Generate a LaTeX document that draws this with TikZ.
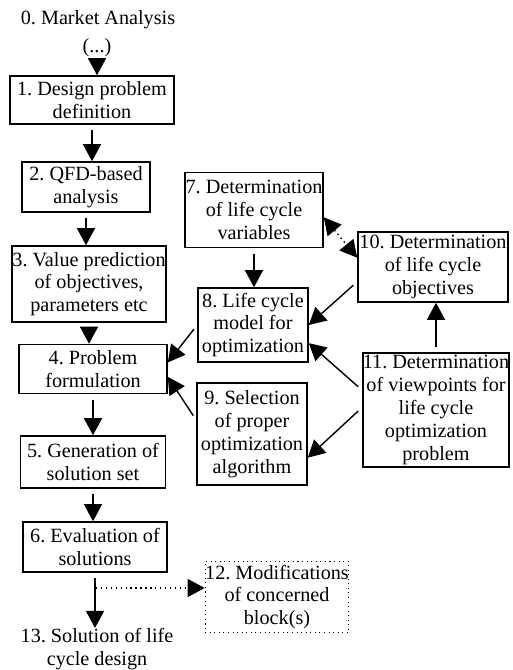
\documentclass[tikz,border=0pt]{standalone}
\usepackage{fontspec}
\setmainfont{Liberation Serif}
\usetikzlibrary{arrows.meta}

\begin{document}
\begin{tikzpicture}[x=0.02cm, y=-0.02cm,
    txt/.style={align=center, inner sep=0pt, font=\fontsize{11.5}{13}\selectfont\frenchspacing},
    box/.style={txt, draw, line width=0.9pt},
    dotbox/.style={txt, draw, dotted, line width=0.6pt},
    arr/.style={-{Triangle[length=0.34cm,width=0.36cm]}, line width=0.8pt, shorten <=3pt},
]
    \useasboundingbox (0,0) rectangle (512,670);

    % Main column
    \node[txt] (m0) at (98,20) {0. Market Analysis};
    \node[txt] (dots) at (97,48) {(...)};
    \node[box, minimum width=3.28cm, minimum height=0.96cm] (b1) at (92,100) {1. Design problem\\definition};
    \node[box, minimum width=2.56cm, minimum height=1.0cm] (b2) at (86,187) {2. QFD-based\\analysis};
    \node[box, minimum width=3.08cm, minimum height=1.52cm] (b3) at (89,284) {3. Value prediction\\of objectives,\\parameters etc};
    \node[box, minimum width=2.96cm, minimum height=0.98cm] (b4) at (93,369) {4. Problem\\formulation};
    \node[box, minimum width=2.9cm, minimum height=1.04cm] (b5) at (93,462) {5. Generation of\\solution set};
    \node[box, minimum width=2.88cm, minimum height=1.0cm] (b6) at (95,547) {6. Evaluation of\\solutions};
    \node[txt] (t13) at (97,649) {13. Solution of life\\cycle design};

    % Life cycle blocks
    \node[box, minimum width=2.76cm, minimum height=1.5cm] (b7) at (254,210) {7. Determination\\of life cycle\\variables};
    \node[box, minimum width=2.2cm, minimum height=1.48cm] (b8) at (253,325) {8. Life cycle\\model for\\optimization};
    \node[box, minimum width=2.2cm, minimum height=2.04cm] (b9) at (252,434) {9. Selection\\of proper\\optimization\\algorithm};
    \node[box, minimum width=3.0cm, minimum height=1.4cm] (b10) at (433,267) {10. Determination\\of life cycle\\objectives};
    \node[box, minimum width=2.9cm, minimum height=2.28cm] (b11) at (436,410) {11. Determination\\of viewpoints for\\life cycle\\optimization\\problem};
    \node[dotbox, minimum width=2.86cm, minimum height=1.42cm] (b12) at (277,597) {12. Modifications\\of concerned\\block(s)};

    % Flow down
    \draw[arr] (dots) -- (dots |- b1.north);
    \draw[arr] (b1.south) -- (b1.south |- b2.north);
    \draw[arr] (b2.south) -- (b2.south |- b3.north);
    \draw[arr] (b3.south) -- (b3.south |- b4.north);
    \draw[arr] (b4.south) -- (b4.south |- b5.north);
    \draw[arr] (b5.south) -- (b5.south |- b6.north);
    \draw[arr] (b6.south) -- (b6.south |- t13.north);

    % Arrows into 4, 8, 9, 10
    \draw[arr] (b7.south) -- (b7.south |- b8.north);
    \draw[arr] (b10.191) -- (b8.east);
    \draw[arr] (b11.165) -- (b8.-18);
    \draw[arr] (b11.178) -- (b9.-23);
    \draw[arr] (b11.north) -- (b11.north |- b10.south);
    \draw[arr] (b8.west) -- (b4.5);
    \draw[arr] (b9.166) -- (b4.-6);
    \draw[arr, dotted, {Triangle[length=0.34cm,width=0.36cm]}-{Triangle[length=0.34cm,width=0.36cm]}, shorten <=0pt] (b7.-6) -- (b10.173);

    % Feedback to 12
    \coordinate (c12) at (96,588);
    \draw[arr, dotted, shorten <=0pt] (c12) -- (c12 -| b12.west);
\end{tikzpicture}
\end{document}
